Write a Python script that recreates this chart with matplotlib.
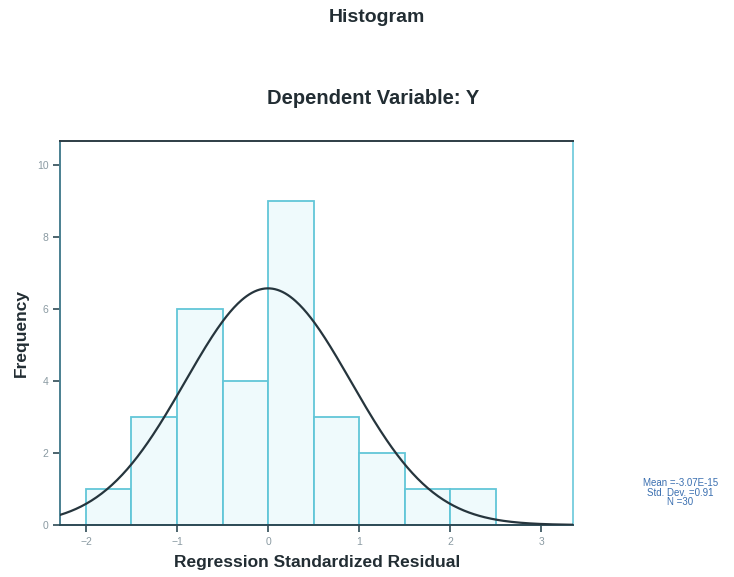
import numpy as np
import matplotlib
matplotlib.use('Agg')
import matplotlib.pyplot as plt

# histogram of regression standardized residuals (SPSS style)
bin_edges = [-2.0, -1.5, -1.0, -0.5, 0.0, 0.5, 1.0, 1.5, 2.0, 2.5]
counts = [1, 3, 6, 4, 9, 3, 2, 1, 1]
resid_mean = -3.07e-15
resid_std = 0.91
n_obs = 30

x_ticks = [-2, -1, 0, 1, 2, 3]
y_ticks = [0, 2, 4, 6, 8, 10]

plt.rcParams['font.family'] = ['Liberation Sans', 'DejaVu Sans']

fig = plt.figure(figsize=(7.34, 5.77), dpi=100)
ax = fig.add_axes([0.0824, 0.0901, 0.6983, 0.6655])

widths = np.diff(bin_edges)
ax.bar(bin_edges[:-1], counts, width=widths, align='edge',
       color='#effafc', edgecolor='#62c6d8', linewidth=1.3, zorder=2)

# normal curve scaled to counts
bw = widths[0]
xs = np.linspace(-2.28, 3.35, 400)
ys = n_obs * bw / (resid_std * np.sqrt(2 * np.pi)) * np.exp(-0.5 * ((xs - resid_mean) / resid_std) ** 2)
ax.plot(xs, ys, color='#26353d', linewidth=1.6, zorder=3)

ax.set_xlim(-2.28, 3.35)
ax.set_ylim(0, 10.67)
ax.set_xticks(x_ticks)
ax.set_yticks(y_ticks)
ax.tick_params(axis='both', labelsize=7.5, labelcolor='#8a9aa2', color='#2d4a55',
               length=5, width=1.2, direction='out')

ax.spines['top'].set_color('#2d3d45')
ax.spines['bottom'].set_color('#2d4a55')
ax.spines['left'].set_color('#4a8090')
ax.spines['right'].set_color('#7fd0e0')
for s in ax.spines.values():
    s.set_linewidth(1.4)

ax.set_xlabel('Regression Standardized Residual', fontsize=12.5, fontweight='bold',
              color='#222d33', labelpad=6)
ax.set_ylabel('Frequency', fontsize=12.5, fontweight='bold', color='#222d33', labelpad=6)

fig.text(0.514, 0.969, 'Histogram', ha='center', va='center', fontsize=14,
         fontweight='bold', color='#222d33')
fig.text(0.508, 0.830, 'Dependent Variable: Y', ha='center', va='center', fontsize=14.5,
         fontweight='bold', color='#222d33')

stats = f'Mean =-3.07E-15\nStd. Dev. ={resid_std:.2f}\nN ={n_obs}'
fig.text(0.927, 0.146, stats, ha='center', va='center', fontsize=7,
         color='#3a6fb0', linespacing=0.95)

fig.savefig('out.png', dpi=100)
